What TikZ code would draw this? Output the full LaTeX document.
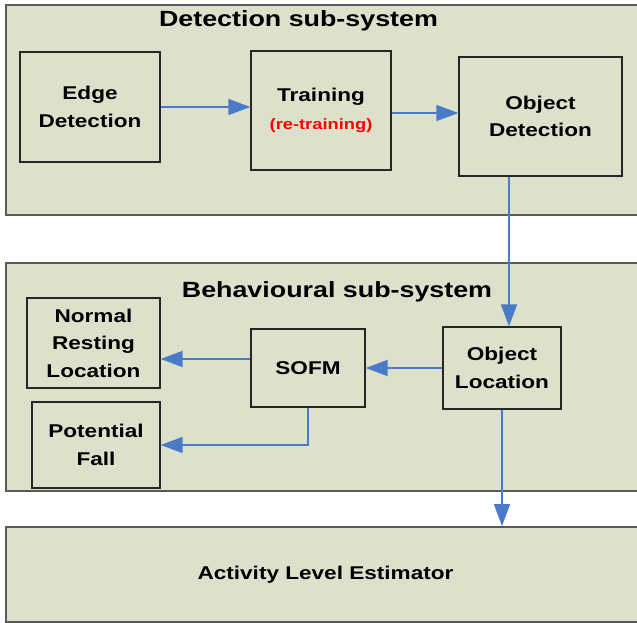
\documentclass[tikz,border=0pt]{standalone}
\usepackage{fontspec}
\setmainfont{Liberation Sans}[FakeStretch=1.22]
\usepackage{tikz}
\usetikzlibrary{arrows.meta}

\definecolor{panelfill}{RGB}{221,225,204}
\definecolor{flowblue}{RGB}{74,123,201}

\begin{document}
\begin{tikzpicture}
[x=1pt,y=-1pt,
every node/.style={draw=black!85,fill=panelfill,line width=1.3pt,align=center,inner sep=0pt,
  font=\fontsize{18.5}{27.5}\selectfont\bfseries},
panel/.style={draw=black!65,line width=1.8pt},
title/.style={draw=none,fill=none,font=\fontsize{22}{26}\selectfont\bfseries},
flow/.style={draw=flowblue,line width=1.6pt,-{Triangle[length=22pt,width=16pt]}}]
\useasboundingbox (0,0) rectangle (637,623);
% sub-system panels
\node[panel,minimum width=639pt,minimum height=210pt] (detpanel) at (325.5,110) {};
\node[panel,minimum width=639pt,minimum height=228pt] (behpanel) at (325.5,377) {};
\node[panel,minimum width=639pt,minimum height=95pt] (act) at (325.5,574.5) {Activity Level Estimator};
\node[title] (dettitle) at (298.5,21) {Detection sub-system};
\node[title] (behtitle) at (337,292) {Behavioural sub-system};
% blocks
\node[minimum width=140pt,minimum height=110pt] (edge) at (90,107) {Edge\\Detection};
\node[minimum width=140pt,minimum height=119pt] (train) at (321,110.5) {Training\\{\color{red}\fontsize{15}{25}\selectfont(re-training)}};
\node[minimum width=163pt,minimum height=119pt] (objdet) at (540.5,116.5) {Object\\Detection};
\node[minimum width=133pt,minimum height=90pt] (normal) at (93.5,343) {Normal\\Resting\\Location};
\node[minimum width=128pt,minimum height=86pt] (fall) at (96,445) {Potential\\Fall};
\node[minimum width=114pt,minimum height=78pt] (sofm) at (308,368) {SOFM};
\node[minimum width=118pt,minimum height=82pt] (objloc) at (502,368) {Object\\Location};
% flows
\draw[flow] (edge.east) -- (edge.east -| train.west);
\draw[flow] ([yshift=-2.5pt]train.east) -- ([yshift=-2.5pt]train.east -| objdet.west);
\draw[flow] ([xshift=-31.5pt]objdet.south) -- ([xshift=-31.5pt]objdet.south |- objloc.north);
\draw[flow] (objloc.west) -- (sofm.east);
\draw[flow] ([yshift=9pt]sofm.west) -- ([yshift=9pt]sofm.west -| normal.east);
\draw[flow] (sofm.south) |- (fall.east);
\draw[flow] (objloc.south) -- (objloc.south |- act.north);
\end{tikzpicture}
\end{document}
